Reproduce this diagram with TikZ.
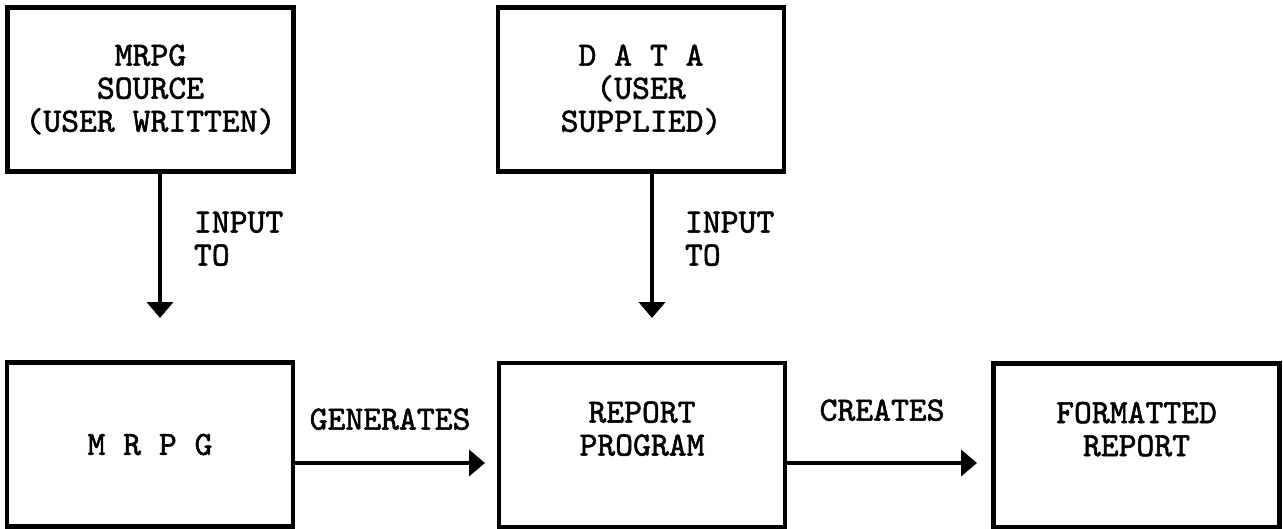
\documentclass[tikz,border=0pt]{standalone}
\usepackage{fontspec}
\newfontfamily\typew{lmmono10-regular}[Extension=.otf, FakeBold=1.6]
\usetikzlibrary{arrows.meta}

\begin{document}
\begin{tikzpicture}[x=0.5pt, y=-0.5pt,
  every node/.style={font=\typew\fontsize{17pt}{16.5pt}\selectfont},
  box/.style={draw, line width=2.2pt, minimum width=143pt, minimum height=82pt, align=center, inner sep=0pt},
  lbl/.style={inner sep=0pt, align=left},
  arr/.style={line width=2pt, -{Triangle[width=13pt,length=8pt]}}]
\path[use as bounding box, fill=white] (0,0) rectangle (1283,529);
\node[box] (src) at (150.5,89.5) {MRPG\\SOURCE\\(USER WRITTEN)};
\node[box] (data) at (641,89.5) {D A T A\\(USER\\SUPPLIED)};
\node[box] (mrpg) at (150,444.5) {M R P G};
\node[box] (report) at (642,445) {REPORT\\PROGRAM\\ \mbox{}};
\node[box] (fmt) at (1136.5,445.5) {FORMATTED\\REPORT\\ \mbox{}};
\coordinate (tip1) at (160,318);
\coordinate (tip2) at (652,318);
\coordinate (tip3) at (485,463);
\coordinate (tip4) at (977,463);
\draw[arr] (src.south -| tip1) -- node[lbl, pos=0.25, anchor=north west, xshift=16pt] (in1) {INPUT\\TO} (tip1);
\draw[arr] (data.south -| tip2) -- node[lbl, pos=0.25, anchor=north west, xshift=15.5pt] (in2) {INPUT\\TO} (tip2);
\draw[arr] (mrpg.east |- tip3) -- node[lbl, above=15.5pt] (gen) {GENERATES} (tip3);
\draw[arr] (report.east |- tip4) -- node[lbl, above=20pt] (cre) {CREATES} (tip4);
\end{tikzpicture}
\end{document}
